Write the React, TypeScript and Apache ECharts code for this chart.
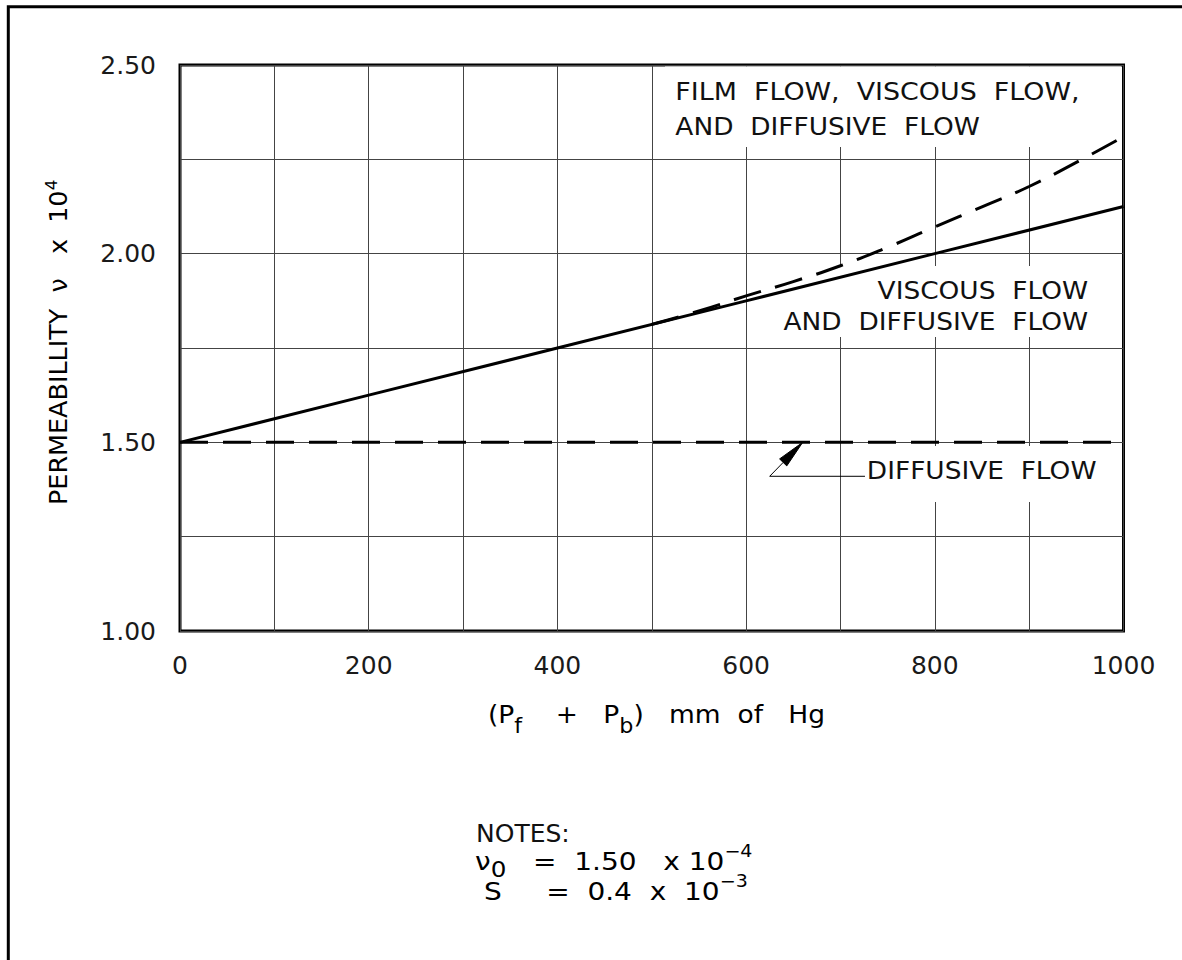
import React, { useEffect, useRef } from "react";
import * as echarts from "echarts";

// ---- data ----
const xTickLabels = ["0", "200", "400", "600", "800", "1000"];
const yTickLabels = ["1.00", "1.50", "2.00", "2.50"];

// viscous flow and diffusive flow (straight line)
const viscousP = [0, 200, 400, 600, 800, 1000];
const viscousV = [1.5, 1.625, 1.75, 1.875, 2.0, 2.125];

// film flow, viscous flow and diffusive flow (dashed, bends upward)
const filmP = [500, 550, 600, 650, 700, 750, 800, 850, 900, 950, 1000];
const filmV = [1.8125, 1.848, 1.888, 1.926, 1.968, 2.017, 2.071, 2.124, 2.178, 2.242, 2.31];

// diffusive flow only (dashed horizontal)
const diffusiveP = [0, 1000];
const diffusiveV = [1.5, 1.5];

const FONT = "'DejaVu Sans', Verdana, sans-serif";
const INK = "#111";

const zip = (a: number[], b: number[]) => a.map((v, i) => [v, b[i]]);

export default function App() {
  const ref = useRef<HTMLDivElement>(null);

  useEffect(() => {
    document.body.style.margin = "0";
    const chart = echarts.init(ref.current!, null, { renderer: "svg" });

    const option: any = {
      animation: false,
      backgroundColor: "#fff",
      grid: {
        left: 180,
        top: 65,
        right: 58.5,
        bottom: 329,
        show: true,
        borderColor: "#000",
        borderWidth: 3,
        backgroundColor: "transparent",
        containLabel: false,
        outerBoundsMode: "none",
      },
      xAxis: {
        type: "value",
        min: 0,
        max: 1000,
        interval: 100,
        axisLine: { show: false },
        axisTick: { show: false },
        axisLabel: {
          margin: 22,
          fontSize: 25,
          color: "#1a1a1a",
          fontFamily: FONT,
          showMinLabel: true,
          showMaxLabel: true,
          formatter: (v: number) => {
            const s = String(Math.round(v));
            return xTickLabels.includes(s) ? s : "";
          },
        },
        splitLine: { show: true, lineStyle: { color: "#444", width: 1 } },
      },
      yAxis: {
        type: "value",
        min: 1,
        max: 2.5,
        interval: 0.25,
        axisLine: { show: false },
        axisTick: { show: false },
        axisLabel: {
          margin: 24,
          fontSize: 25,
          color: "#1a1a1a",
          fontFamily: FONT,
          showMinLabel: true,
          showMaxLabel: true,
          formatter: (v: number) => {
            const s = v.toFixed(2);
            return yTickLabels.includes(s) ? s : "";
          },
        },
        splitLine: { show: true, lineStyle: { color: "#444", width: 1 } },
      },
      series: [
        {
          name: "VISCOUS FLOW AND DIFFUSIVE FLOW",
          type: "line",
          data: zip(viscousP, viscousV),
          symbol: "none",
          lineStyle: { color: "#000", width: 3, type: "solid" },
          z: 3,
        },
        {
          name: "FILM FLOW, VISCOUS FLOW, AND DIFFUSIVE FLOW",
          type: "line",
          data: zip(filmP, filmV),
          symbol: "none",
          smooth: true,
          lineStyle: { color: "#000", width: 3, type: [28, 15] },
          z: 3,
        },
        {
          name: "DIFFUSIVE FLOW",
          type: "line",
          data: zip(diffusiveP, diffusiveV),
          symbol: "none",
          lineStyle: { color: "#000", width: 3, type: [28, 15] },
          z: 3,
        },
      ],
    };
    chart.setOption(option);

    const px = (p: number, v: number) =>
      chart.convertToPixel({ gridIndex: 0 } as any, [p, v]) as number[];

    const maskRect = (p0: number, v0: number, p1: number, v1: number) => {
      const a = px(p0, v0);
      const b = px(p1, v1);
      const x0 = Math.min(a[0], b[0]);
      const x1 = Math.max(a[0], b[0]) - 2.5;
      const y0 = Math.min(a[1], b[1]);
      const y1 = Math.max(a[1], b[1]);
      return {
        type: "rect",
        z: 1,
        shape: { x: x0, y: y0, width: x1 - x0, height: y1 - y0 },
        style: { fill: "#fff" },
        silent: true,
      };
    };

    const annText = (pos: number[], text: string, align: string, sx = 1.1) => ({
      type: "text",
      x: pos[0],
      y: pos[1],
      scaleX: sx,
      z: 10,
      style: {
        text,
        fontSize: 24,
        fontFamily: FONT,
        fill: INK,
        align,
        verticalAlign: "middle",
      },
    });

    // arrow / leader for DIFFUSIVE FLOW
    const tip = px(660, 1.5);
    const tail = px(625, 1.41);
    const lend = px(726, 1.41);
    const dx = tip[0] - tail[0];
    const dy = tip[1] - tail[1];
    const len = Math.hypot(dx, dy);
    const ux = dx / len;
    const uy = dy / len;
    const headLen = 28;
    const halfW = 5;
    const base = [tip[0] - ux * headLen, tip[1] - uy * headLen];
    const perp = [-uy, ux];

    const richBase = { fontSize: 25, fontFamily: FONT, color: INK };

    const elements: any[] = [
      // outer frame (only top/left edges fall inside the page)
      {
        type: "rect",
        z: 20,
        shape: { x: 8.3, y: 6.7, width: 1400, height: 1200 },
        style: { fill: "none", stroke: "#000", lineWidth: 3 },
        silent: true,
      },
      maskRect(514, 2.283, 1000, 2.496),
      maskRect(694, 1.967, 1000, 1.779),
      maskRect(723, 1.49, 1000, 1.342),
      annText(px(525, 2.431), "FILM  FLOW,  VISCOUS  FLOW,", "left", 1.12),
      annText(px(525, 2.336), "AND  DIFFUSIVE  FLOW", "left", 1.1),
      annText(px(962.4, 1.901), "VISCOUS  FLOW", "right"),
      annText(px(962.4, 1.819), "AND  DIFFUSIVE  FLOW", "right"),
      annText(px(728, 1.424), "DIFFUSIVE  FLOW", "left"),
      {
        type: "polyline",
        z: 10,
        shape: { points: [base, tail, lend] },
        style: { stroke: "#000", lineWidth: 1, fill: "none" },
      },
      {
        type: "polygon",
        z: 10,
        shape: {
          points: [
            tip,
            [base[0] + perp[0] * halfW, base[1] + perp[1] * halfW],
            [base[0] - perp[0] * halfW, base[1] - perp[1] * halfW],
          ],
        },
        style: { fill: "#000", stroke: "#000", lineWidth: 1 },
      },
      // y axis title
      {
        type: "text",
        x: 59,
        y: 505,
        rotation: Math.PI / 2,
        scaleX: 1.06,
        z: 10,
        style: {
          text: "{t|PERMEABILLITY  ν   x  10}{sup|4}",
          align: "left",
          verticalAlign: "middle",
          rich: {
            t: { ...richBase, fontSize: 24, lineHeight: 30, verticalAlign: "middle" },
            sup: { ...richBase, fontSize: 16, lineHeight: 16, verticalAlign: "top" },
          },
        },
      },
      // x axis title
      {
        type: "text",
        x: 488,
        y: 714,
        scaleX: 1.06,
        z: 10,
        style: {
          text: "{t|(P}{s|f}{t|    +   P}{s|b}{t|)   mm  of   Hg}",
          align: "left",
          verticalAlign: "middle",
          rich: {
            t: { ...richBase, lineHeight: 44, verticalAlign: "middle" },
            s: { ...richBase, fontSize: 21, lineHeight: 21, verticalAlign: "bottom" },
          },
        },
      },
      // notes
      {
        type: "text",
        x: 476,
        y: 833,
        z: 10,
        style: {
          text: "NOTES:",
          fontSize: 25,
          fontFamily: FONT,
          fill: INK,
          align: "left",
          verticalAlign: "middle",
        },
      },
      {
        type: "text",
        x: 475,
        y: 861,
        scaleX: 1.12,
        z: 10,
        style: {
          text: "{t|ν}{s|0}{t|   =  1.50   x 10}{sup|−4}",
          align: "left",
          verticalAlign: "middle",
          rich: {
            t: { ...richBase, lineHeight: 38, verticalAlign: "middle" },
            s: { ...richBase, fontSize: 22, lineHeight: 30, verticalAlign: "bottom" },
            sup: { ...richBase, fontSize: 17, lineHeight: 17, verticalAlign: "top" },
          },
        },
      },
      {
        type: "text",
        x: 475,
        y: 891,
        scaleX: 1.12,
        z: 10,
        style: {
          text: "{t| S     =  0.4  x  10}{sup|−3}",
          align: "left",
          verticalAlign: "middle",
          rich: {
            t: { ...richBase, lineHeight: 38, verticalAlign: "middle" },
            sup: { ...richBase, fontSize: 17, lineHeight: 17, verticalAlign: "top" },
          },
        },
      },
    ];

    chart.setOption({ graphic: { elements } });

    return () => {
      chart.dispose();
    };
  }, []);

  return <div ref={ref} style={{ width: 1182, height: 960 }} />;
}
